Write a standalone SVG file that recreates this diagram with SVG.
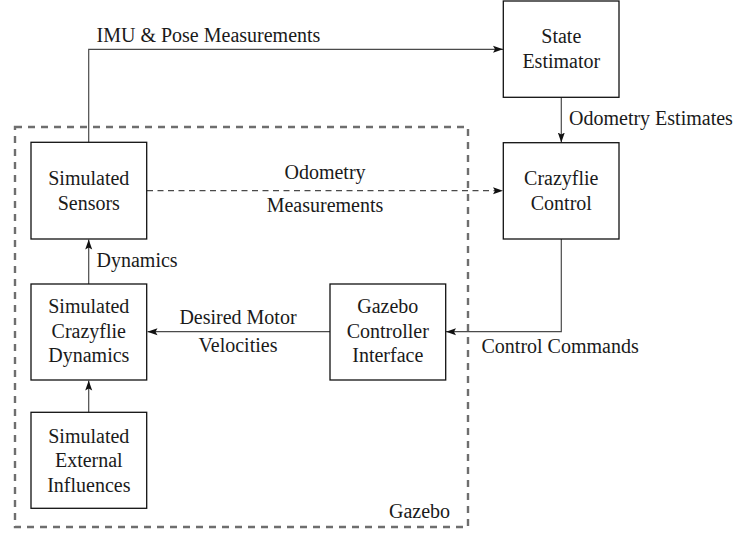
<svg xmlns="http://www.w3.org/2000/svg" width="737" height="534" viewBox="0 0 737 534">
<style>
text{font-family:"Liberation Serif","Times New Roman",serif;font-size:20px;fill:#1a1a1a}
.c{text-anchor:middle}
.box{fill:#fff;stroke:#111;stroke-width:1.3}
.ln{fill:none;stroke:#4a4a4a;stroke-width:1.2}
.dash{stroke-dasharray:6 4.5}
.gz{fill:none;stroke:#6e6e6e;stroke-width:2.4;stroke-dasharray:7 6}
</style>
<defs>
<marker id="ah" viewBox="0 0 10 8" refX="10" refY="4" markerWidth="10" markerHeight="8" markerUnits="userSpaceOnUse" orient="auto">
<path d="M0,0.5 L10,4 L0,7.5 L2,4 Z" fill="#111"/>
</marker>
</defs>
<rect id="gazebo" class="gz" x="15" y="127" width="453" height="400"/>
<g id="connectors">
<path class="ln" d="M88.7,142 V49.3 H503" marker-end="url(#ah)"/>
<path class="ln" d="M561.3,97 V142.5" marker-end="url(#ah)"/>
<path class="ln dash" d="M147,190.7 H503" marker-end="url(#ah)"/>
<path class="ln" d="M88.7,284 V239.5" marker-end="url(#ah)"/>
<path class="ln" d="M88.7,412 V380.5" marker-end="url(#ah)"/>
<path class="ln" d="M330,331.7 H147.5" marker-end="url(#ah)"/>
<path class="ln" d="M561.3,239 V331.7 H446" marker-end="url(#ah)"/>
<text x="96.5" y="42">IMU &amp; Pose Measurements</text>
<text x="569" y="124.5">Odometry Estimates</text>
<text class="c" x="325" y="179">Odometry</text>
<text class="c" x="325" y="211.5">Measurements</text>
<text x="96.5" y="267">Dynamics</text>
<text class="c" x="238" y="324">Desired Motor</text>
<text class="c" x="238" y="351.5">Velocities</text>
<text x="481.5" y="353">Control Commands</text>
<text x="389" y="518">Gazebo</text>
</g>
<g id="state-estimator">
<rect class="box" x="503.3" y="1" width="115.7" height="96.3"/>
<text class="c" x="561.3" y="43">State</text>
<text class="c" x="561.3" y="68">Estimator</text>
</g>
<g id="crazyflie-control">
<rect class="box" x="503.3" y="142.7" width="115.7" height="96.3"/>
<text class="c" x="561.3" y="185">Crazyflie</text>
<text class="c" x="561.3" y="210">Control</text>
</g>
<g id="simulated-sensors">
<rect class="box" x="31" y="142.3" width="115.7" height="96.7"/>
<text class="c" x="88.8" y="185">Simulated</text>
<text class="c" x="88.8" y="210">Sensors</text>
</g>
<g id="simulated-dynamics">
<rect class="box" x="31" y="284" width="115.7" height="96"/>
<text class="c" x="88.8" y="312.5">Simulated</text>
<text class="c" x="88.8" y="337.5">Crazyflie</text>
<text class="c" x="88.8" y="362">Dynamics</text>
</g>
<g id="simulated-external">
<rect class="box" x="31" y="412.3" width="115.7" height="96"/>
<text class="c" x="88.8" y="442.5">Simulated</text>
<text class="c" x="88.8" y="467">External</text>
<text class="c" x="88.8" y="492">Influences</text>
</g>
<g id="gazebo-controller">
<rect class="box" x="330" y="284" width="115.7" height="96"/>
<text class="c" x="387.8" y="312.5">Gazebo</text>
<text class="c" x="387.8" y="337.5">Controller</text>
<text class="c" x="387.8" y="362">Interface</text>
</g>
</svg>
